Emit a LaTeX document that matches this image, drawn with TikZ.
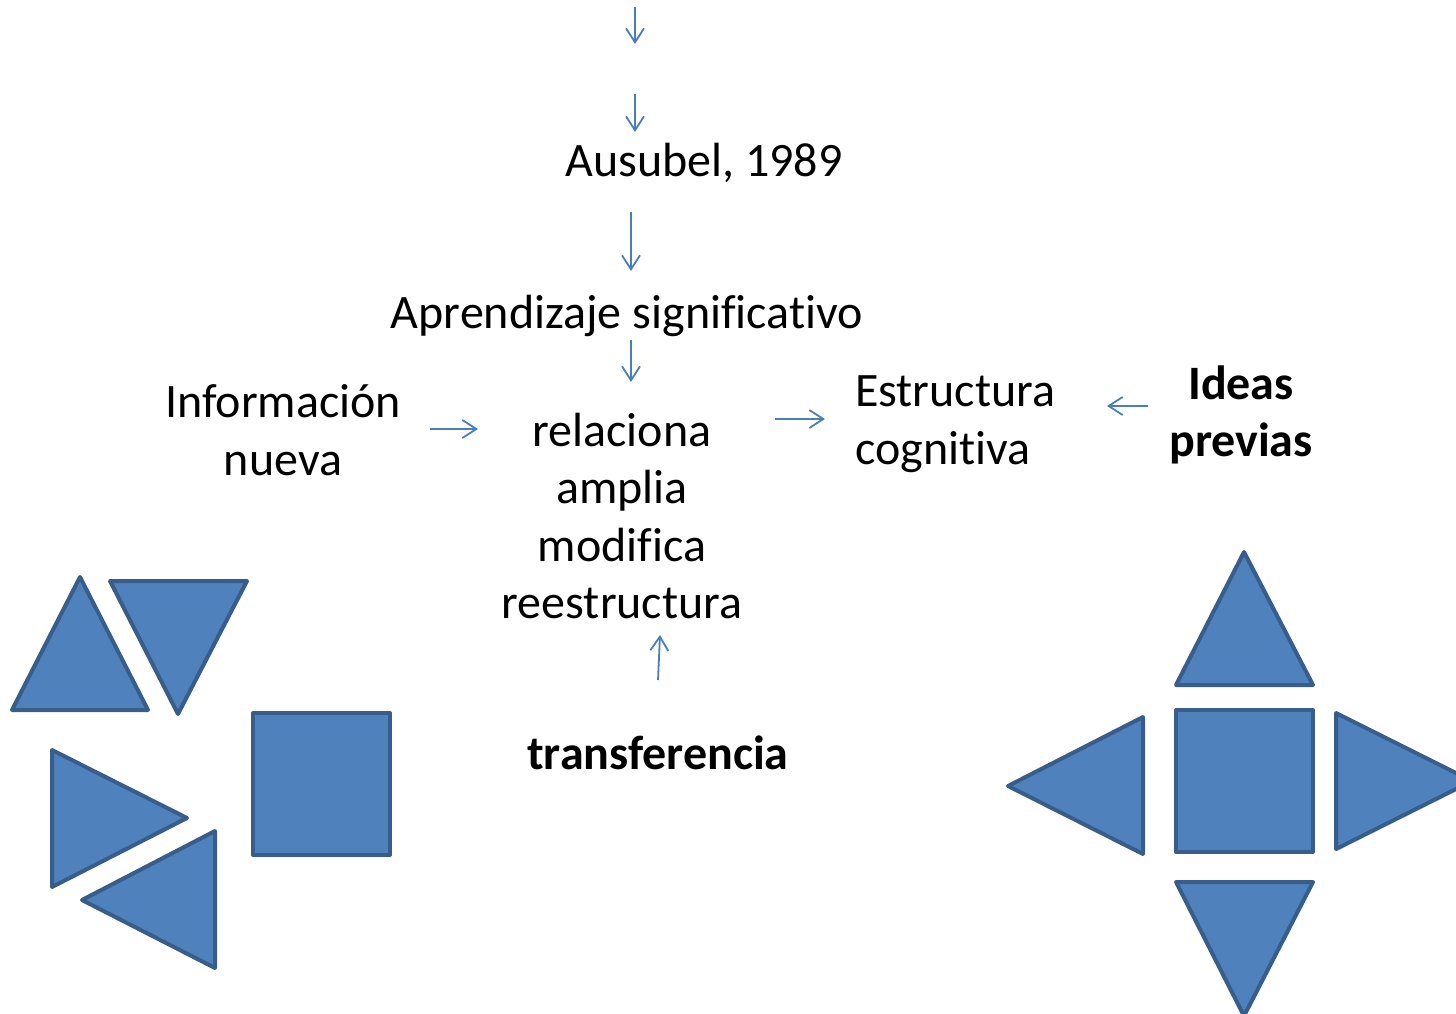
\documentclass[tikz,border=0pt]{standalone}
\usepackage{fontspec}
\setmainfont{Carlito}[Ligatures=NoCommon]
\usetikzlibrary{arrows.meta}
\definecolor{shapefill}{HTML}{4F81BD}
\definecolor{shapeedge}{HTML}{385D8A}
\definecolor{arrowblue}{HTML}{4A7EBB}
\begin{document}
\begin{tikzpicture}[x=1pt,y=-1pt,
  txt/.style={inner sep=0pt, align=center, font=\fontsize{48}{57.5}\selectfont},
  txtl/.style={inner sep=0pt, align=left, font=\fontsize{48}{57.5}\selectfont},
  btxt/.style={inner sep=0pt, align=center, font=\fontsize{48}{57.5}\selectfont\bfseries},
  conn/.style={draw=arrowblue, line width=1.8pt, -{Straight Barb[length=14pt,width=18pt,line width=1.8pt]}},
  piece/.style={fill=shapefill, draw=shapeedge, line width=4pt, line join=round}]
\useasboundingbox (0,0) rectangle (1456,1014);
\clip (0,0) rectangle (1456,1014);

% texts
\node[txt] (ausubel) at (704,163) {Ausubel, 1989};
\node[txt] (aprend) at (627,316) {Aprendizaje significativo};
\node[txt] (info) at (283,430) {Información\\nueva};
\node[txt] (verbs) at (622,516) {relaciona\\amplia\\modifica\\reestructura};
\node[txtl, anchor=west] (estr) at (855,424) {Estructura\\cognitiva};
\node[btxt] (ideas) at (1241,415) {Ideas\\previas};
\node[btxt] (transf) at (658,753) {transferencia};

% arrow end points
\coordinate (a1s) at (635,7);   \coordinate (a1e) at (635,44);
\coordinate (a2s) at (635,94);  \coordinate (a2e) at (635,132);
\coordinate (a3s) at (631,212); \coordinate (a3e) at (631,271);
\coordinate (a4s) at (631,340); \coordinate (a4e) at (631,382);
\coordinate (a5s) at (430,429); \coordinate (a5e) at (478,429);
\coordinate (a6s) at (775,419); \coordinate (a6e) at (825,419);
\coordinate (a7s) at (1148,406); \coordinate (a7e) at (1107,406);
\coordinate (a8s) at (658,680); \coordinate (a8e) at (660,635);

\draw[conn] (a1s) -- (a1e);
\draw[conn] (a2s) -- (a2e);
\draw[conn] (a3s) -- (a3e);
\draw[conn] (a4s) -- (a4e);
\draw[conn] (a5s) -- (a5e);
\draw[conn] (a6s) -- (a6e);
\draw[conn] (a7s) -- (a7e);
\draw[conn] (a8s) -- (a8e);

% left group
\draw[piece] (80,577) -- (148,710) -- (12,710) -- cycle;
\draw[piece] (110,581) -- (247,581) -- (178,714) -- cycle;
\draw[piece] (253,713) rectangle (390,855);
\draw[piece] (52,750) -- (187,818) -- (52,887) -- cycle;
\draw[piece] (82,900) -- (215,831) -- (215,968) -- cycle;

% right group
\draw[piece] (1244,552) -- (1313,685) -- (1176,685) -- cycle;
\draw[piece] (1176,710) rectangle (1313,852);
\draw[piece] (1008,786) -- (1143,717) -- (1143,854) -- cycle;
\draw[piece] (1336,713) -- (1472,781) -- (1336,849) -- cycle;
\draw[piece] (1176,882) -- (1313,882) -- (1244,1016) -- cycle;
\end{tikzpicture}
\end{document}
